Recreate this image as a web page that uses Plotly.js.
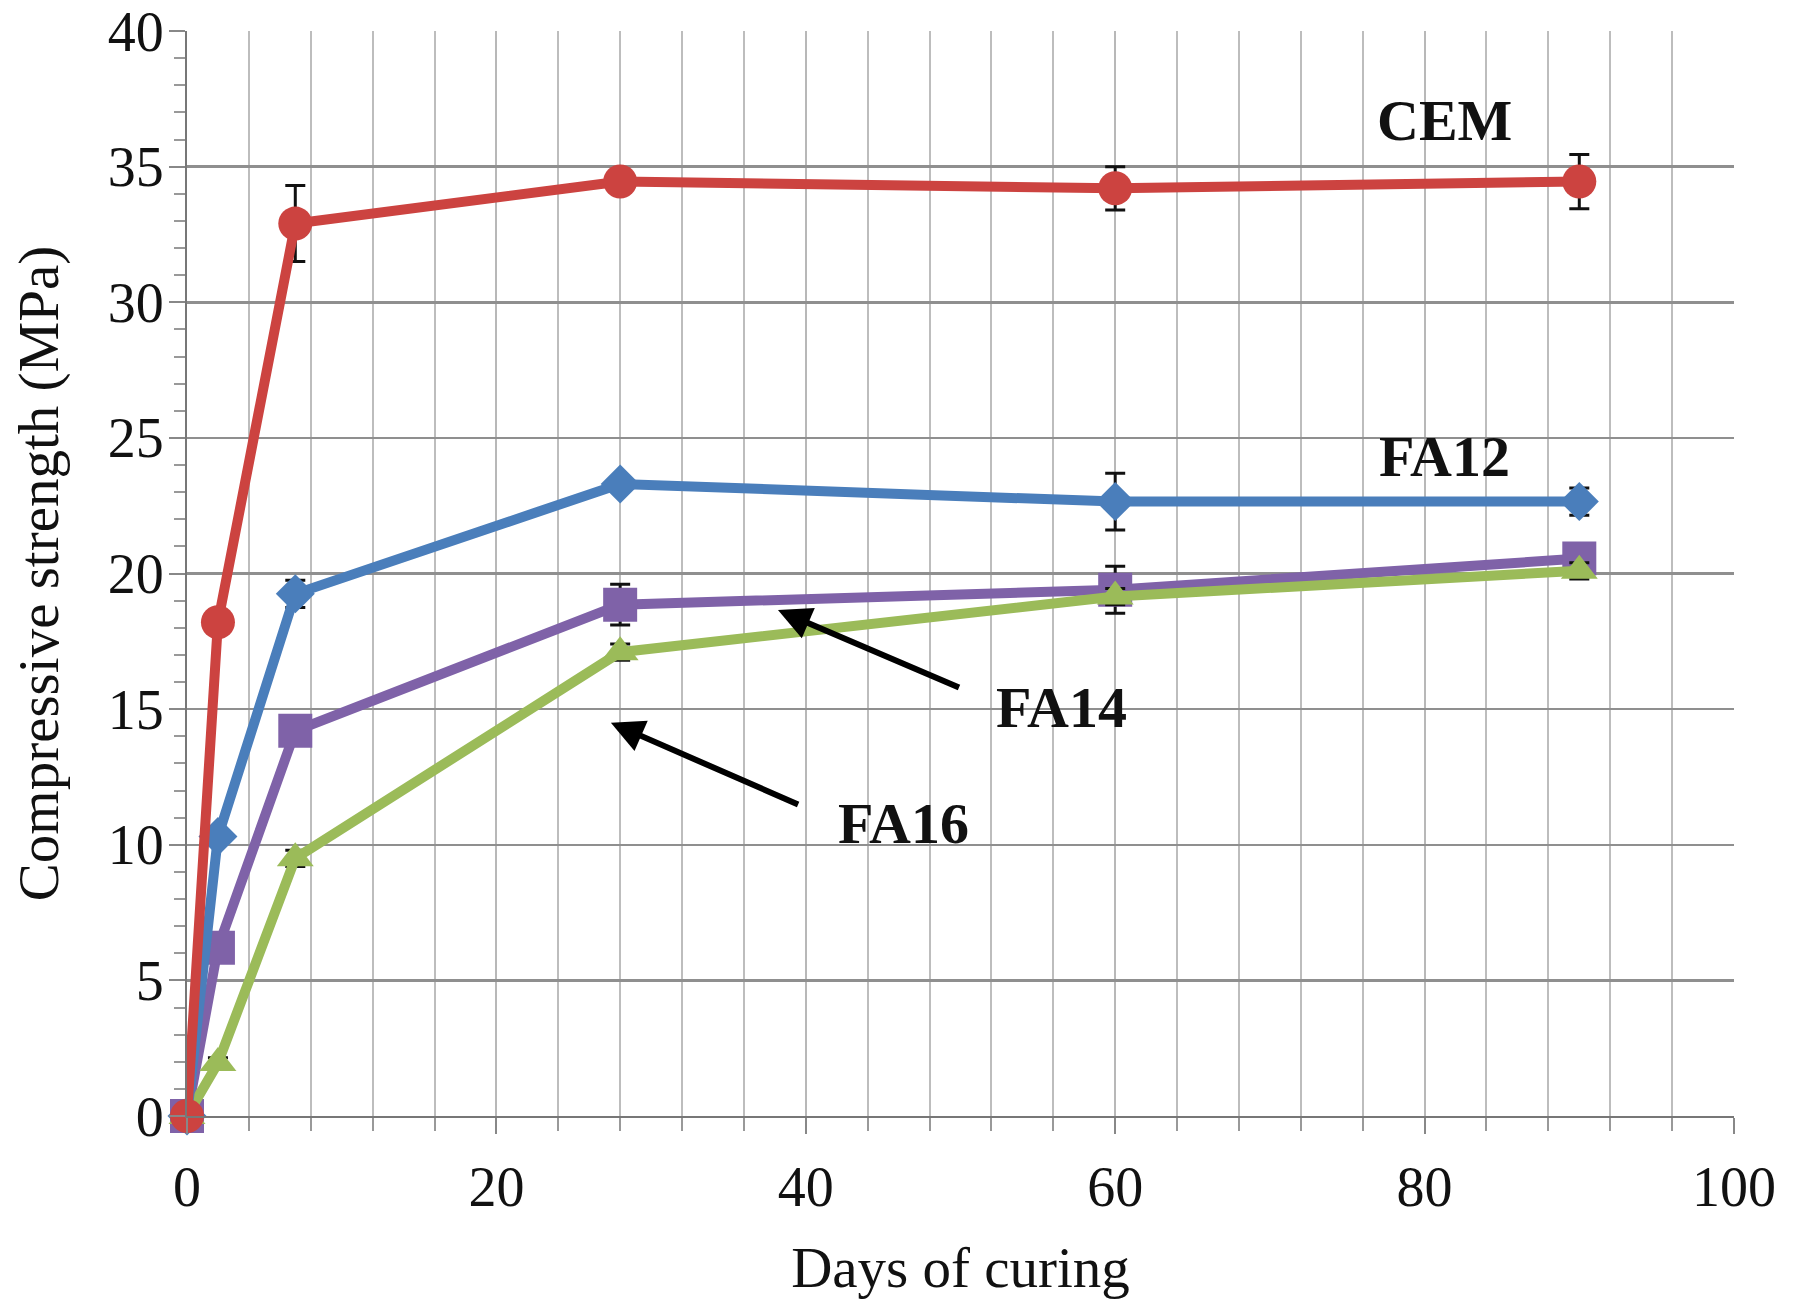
<!DOCTYPE html>
<html>
<head>
<meta charset="utf-8">
<script src="https://cdn.plot.ly/plotly-3.0.1.min.js"></script>
<style>html,body{margin:0;padding:0;background:#fff;}#chart{width:1798px;height:1305px;}</style>
</head>
<body>
<div id="chart"></div>
<script>
const days = [0, 2, 7, 28, 60, 90];
const cem = [0, 18.2, 32.9, 34.45, 34.2, 34.45];
const cemErr = [0, 0, 1.4, 0.3, 0.8, 1.0];
const fa12 = [0, 10.3, 19.25, 23.3, 22.65, 22.65];
const fa12Err = [0, 0, 0.5, 0.2, 1.05, 0.5];
const fa14 = [0, 6.2, 14.2, 18.85, 19.4, 20.55];
const fa14Err = [0, 0.3, 0.3, 0.75, 0.87, 0.3];
const fa16 = [0, 1.95, 9.5, 17.1, 19.15, 20.1];
const fa16Err = [0, 0.2, 0.3, 0.3, 0.3, 0.3];

const serif = 'Liberation Serif, Times New Roman, serif';

function series(name, y, err, color, symbol, size) {
  return {
    type: 'scatter', mode: 'lines+markers', name: name,
    x: days, y: y,
    line: {color: color, width: 10},
    marker: {color: color, symbol: symbol, size: size},
    error_y: {type: 'data', array: err, visible: true, color: '#111', thickness: 3, width: 10},
    cliponaxis: false
  };
}

const traces = [
  series('FA14', fa14, fa14Err, '#7F62A8', 'square', 34),
  series('FA16', fa16, fa16Err, '#9BBB59', 'triangle-up', 32),
  series('FA12', fa12, fa12Err, '#4A7EBB', 'diamond', 30),
  series('CEM', cem, cemErr, '#CC4340', 'circle', 34)
];

const labelFont = {family: serif, size: 58, color: '#111', weight: 'bold'};

const layout = {
  width: 1798, height: 1305,
  margin: {l: 187, r: 64, t: 31, b: 189},
  paper_bgcolor: '#fff', plot_bgcolor: '#fff',
  showlegend: false,
  font: {family: serif, size: 56, color: '#111'},
  xaxis: {
    range: [0, 100], dtick: 20, tick0: 0,
    showgrid: true, gridcolor: '#b8b8b8', gridwidth: 2,
    showline: true, linecolor: '#777', linewidth: 2,
    zeroline: false,
    ticks: 'outside', ticklen: 16, tickwidth: 2, tickcolor: '#888',
    ticklabelstandoff: 5,
    tickfont: {family: serif, size: 56, color: '#111'},
    minor: {dtick: 4, tick0: 0, showgrid: true, gridcolor: '#bdbdbd', gridwidth: 2,
            ticks: 'outside', ticklen: 13, tickwidth: 2, tickcolor: '#999'},
    title: {text: 'Days of curing', font: {family: serif, size: 57, color: '#111'}, standoff: 30}
  },
  yaxis: {
    range: [0, 40], dtick: 5, tick0: 0,
    showgrid: true, gridcolor: '#8f8f8f', gridwidth: 2.5,
    showline: true, linecolor: '#777', linewidth: 2,
    zeroline: false,
    ticks: 'outside', ticklen: 16, tickwidth: 2, tickcolor: '#888',
    ticklabelstandoff: -6,
    tickfont: {family: serif, size: 56, color: '#111'},
    minor: {dtick: 1, tick0: 0, showgrid: false, ticks: 'outside', ticklen: 11, tickwidth: 2, tickcolor: '#999'},
    title: {text: 'Compressive strength (MPa)', font: {family: serif, size: 57, color: '#111'}, standoff: 31}
  },
  annotations: [
    {x: 81.3, y: 36.7, xref: 'x', yref: 'y', text: 'CEM', showarrow: false, font: labelFont},
    {x: 81.3, y: 24.3, xref: 'x', yref: 'y', text: 'FA12', showarrow: false, font: labelFont},
    {x: 56.5, y: 15.05, xref: 'x', yref: 'y', text: 'FA14', showarrow: false, font: labelFont},
    {x: 46.3, y: 10.8, xref: 'x', yref: 'y', text: 'FA16', showarrow: false, font: labelFont},
    {x: 38.2, y: 18.65, xref: 'x', yref: 'y', axref: 'x', ayref: 'y', ax: 50.0, ay: 15.77,
     text: '', showarrow: true, arrowhead: 2, arrowsize: 1.1, arrowwidth: 6, arrowcolor: '#000', standoff: 0},
    {x: 27.4, y: 14.5, xref: 'x', yref: 'y', axref: 'x', ayref: 'y', ax: 39.6, ay: 11.46,
     text: '', showarrow: true, arrowhead: 2, arrowsize: 1.1, arrowwidth: 6, arrowcolor: '#000', standoff: 0}
  ]
};

Plotly.newPlot('chart', traces, layout, {displayModeBar: false, staticPlot: true});
</script>
</body>
</html>
